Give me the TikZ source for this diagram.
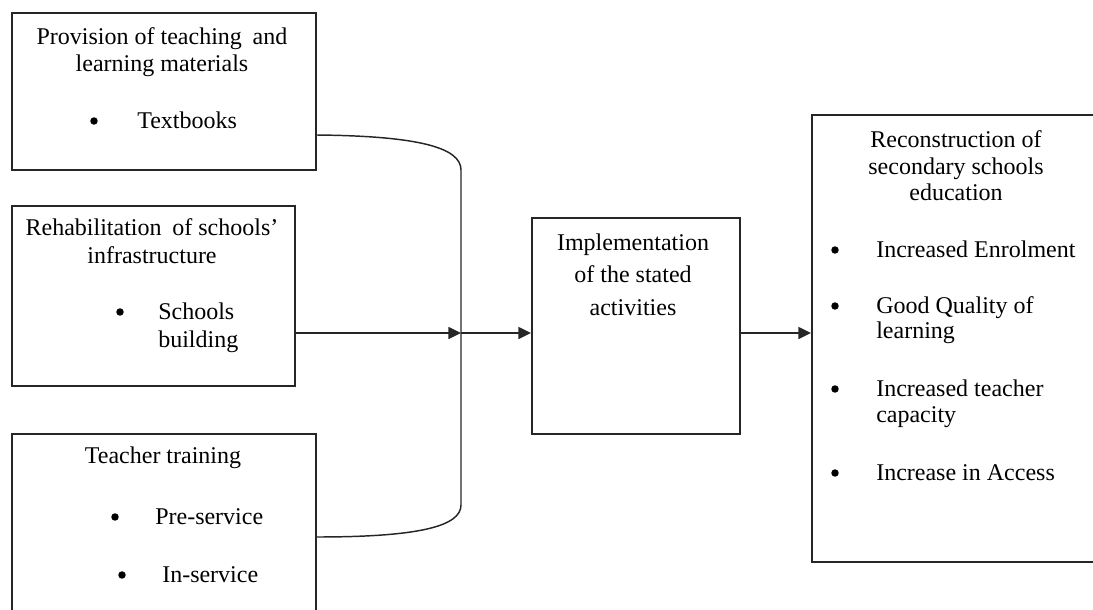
\documentclass[tikz,border=0pt]{standalone}
\usepackage{fontspec}
\setmainfont{Liberation Serif}
\usetikzlibrary{arrows.meta}
\begin{document}
\begin{tikzpicture}[x=0.75pt,y=-0.75pt,
 box/.style={draw=black!85, line width=1.2pt, inner sep=0pt, anchor=north west},
 txt/.style={font=\fontsize{18}{20}\selectfont, inner sep=0pt, anchor=base},
 ltxt/.style={txt, anchor=base west},
 bul/.style={circle, fill=black, inner sep=0pt, minimum size=5.6pt, yshift=5.25pt},
 conn/.style={draw=black!85, line width=1.1pt},
 arr/.style={conn, -{Triangle[length=9.5pt,width=9pt]}}]
\useasboundingbox (0,0) rectangle (1093,610);
\begin{scope}
\clip (0,0) rectangle (1093,610);
% boxes
\node[box, minimum width=228pt, minimum height=117.75pt] (b1) at (11,12) {};
\node[box, minimum width=212.25pt, minimum height=135pt] (b2) at (11,205) {};
\node[box, minimum width=228pt, minimum height=155.25pt] (b3) at (11,433) {};
\node[box, minimum width=156pt, minimum height=162pt] (mid) at (531,217) {};
\node[box, minimum width=231.75pt, minimum height=335.25pt] (res) at (811,114) {};
% box 1 text
\node[txt] (t1a) at (162,45) {Provision of teaching\hspace{0.45em}and};
\node[txt] (t1b) at (162,72) {learning materials};
\node[bul] (t1c) at (94,128) {};
\node[ltxt] (t1d) at (137,128) {Textbooks};
% box 2 text
\node[txt] (t2a) at (152,235) {Rehabilitation\hspace{0.45em}of schools’};
\node[txt] (t2b) at (152,263) {infrastructure};
\node[bul] (t2c) at (120,319) {};
\node[ltxt] (t2d) at (158,319) {Schools};
\node[ltxt] (t2e) at (158,347) {building};
% box 3 text
\node[txt] (t3a) at (163,463) {Teacher training};
\node[bul] (t3b) at (115,524) {};
\node[ltxt] (t3c) at (155,524) {Pre-service};
\node[bul] (t3d) at (122,582) {};
\node[ltxt] (t3e) at (162,582) {In-service};
% middle text
\node[txt] (tma) at (633,250) {Implementation};
\node[txt] (tmb) at (633,282) {of the stated};
\node[txt] (tmc) at (633,315) {activities};
% right text
\node[txt] (tra) at (956,147) {Reconstruction of};
\node[txt] (trb) at (956,175) {secondary schools};
\node[txt] (trc) at (956,200) {education};
\node[bul] (trd) at (835,257) {};
\node[ltxt] (tre) at (876,257) {Increased Enrolment};
\node[bul] (trf) at (835,313) {};
\node[ltxt] (trg) at (876,313) {Good Quality of};
\node[ltxt] (trh) at (876,338) {learning};
\node[bul] (tri) at (835,396) {};
\node[ltxt] (trj) at (876,396) {Increased teacher};
\node[ltxt] (trk) at (876,422) {capacity};
\node[bul] (trl) at (835,480) {};
\node[ltxt] (trm) at (876,480) {Increase in Access};
% connectors
\coordinate (j) at (461,333);
\path[conn] ([yshift=-92.25pt]b1.north east) .. controls (420,136) and (461,148) .. (461,170)
  -- (461,505) .. controls (461,526) and (420,537) .. ([yshift=-78pt]b3.north east);
\draw[arr] (b2.east |- j) -- (j);
\draw[arr] (j) -- (mid.west |- j);
\draw[arr] (mid.east |- j) -- (res.west |- j);
\end{scope}
\end{tikzpicture}
\end{document}
